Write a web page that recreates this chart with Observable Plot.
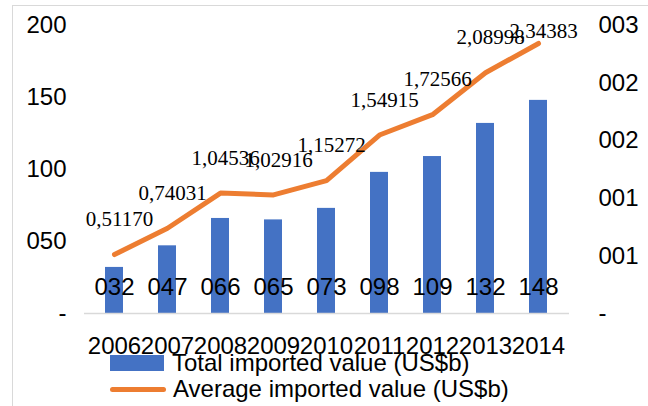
<!DOCTYPE html>
<html>
<head>
<meta charset="utf-8">
<script src="https://cdn.jsdelivr.net/npm/d3@7"></script>
<script src="https://cdn.jsdelivr.net/npm/@observablehq/plot@0.6"></script>
<style>
  html, body { margin: 0; padding: 0; background: #fff; }
  #wrap { position: relative; width: 648px; height: 406px; overflow: hidden; }
  #frame { position: absolute; left: 12px; top: 5px; width: 640px; height: 420px; border: 1.5px solid #D9D9D9; box-sizing: border-box; pointer-events: none; }
  #chart { position: absolute; left: 0; top: 0; }
  #legend { position: absolute; left: 0; top: 352px; width: 648px; font-family: "Liberation Sans", Arial, sans-serif; font-size: 24px; color: #000; }
  .row { position: absolute; left: 110px; height: 26px; display: flex; align-items: center; white-space: nowrap; }
  .sw-bar { width: 54px; height: 16px; background: #4472C4; margin-right: 8px; }
  .sw-line { width: 56px; height: 5px; border-radius: 3px; background: #ED7D31; margin-right: 7px; }
</style>
</head>
<body>
<div id="wrap">
  <div id="chart"></div>
  <div id="frame"></div>
  <div id="legend">
    <div class="row" style="top:-2px"><div class="sw-bar"></div><span>Total imported value (US$b)</span></div>
    <div class="row" style="top:24px"><div class="sw-line"></div><span>Average imported value (US$b)</span></div>
  </div>
</div>
<script>
const years = ["2006","2007","2008","2009","2010","2011","2012","2013","2014"];
const totalValues = [32, 47, 66, 65, 73, 98, 109, 132, 148];
const averageValues = [0.51170, 0.74031, 1.04536, 1.02916, 1.15272, 1.54915, 1.72566, 2.08998, 2.34383];
const leftTicks = [0, 50, 100, 150, 200];
const rightTicks = [0, 0.5, 1, 1.5, 2, 2.5];

const ratio = 200 / 2.5; // right axis 0–2.5 maps onto left axis 0–200
const data = years.map((y, i) => ({year: y, total: totalValues[i], avg: averageValues[i]}));

const pad3 = v => v === 0 ? "-" : String(Math.round(v)).padStart(3, "0");
const comma5 = v => v.toFixed(5).replace(".", ",");

// labels sit above their point, but are kept inside the plot area (as the spreadsheet does)
const labelLift = 24.3;   // in left-axis units
const labelCeil = 196;    // highest label position, left-axis units

const chart = Plot.plot({
  width: 648,
  height: 358,
  marginTop: 25,
  marginBottom: 45,
  marginLeft: 84,
  marginRight: 79,
  style: {fontFamily: "Liberation Sans, Arial, sans-serif", fontSize: "24px", color: "#000", background: "transparent"},
  x: {domain: years, paddingInner: 0.66, paddingOuter: 0.33},
  y: {domain: [0, 200]},
  marks: [
    Plot.barY(data, {x: "year", y: "total", fill: "#4472C4"}),
    Plot.ruleY([0], {stroke: "#D9D9D9", strokeWidth: 1.5}),
    Plot.line(data, {x: "year", y: d => d.avg * ratio, stroke: "#ED7D31", strokeWidth: 5, strokeLinejoin: "round", strokeLinecap: "round"}),
    Plot.text(data, {x: "year", y: () => 0, text: d => pad3(d.total), dy: -26, lineAnchor: "middle", fontSize: 24, fill: "#000"}),
    Plot.text(data, {x: "year", y: d => Math.min(d.avg * ratio + labelLift, labelCeil), text: d => comma5(d.avg), dx: 5, lineAnchor: "middle", fontSize: 21, fontFamily: "Liberation Serif, Times New Roman, serif", fill: "#000"}),
    Plot.axisY({ticks: leftTicks, tickFormat: pad3, tickSize: 0, tickPadding: 18, label: null, fontSize: 24}),
    Plot.axisY({anchor: "right", ticks: rightTicks.map(t => t * ratio), tickFormat: d => pad3(d / ratio), tickSize: 0, tickPadding: 29, label: null, fontSize: 24}),
    Plot.axisX({tickSize: 0, tickPadding: 23, label: null, fontSize: 24})
  ]
});
document.getElementById("chart").appendChild(chart);
</script>
</body>
</html>
